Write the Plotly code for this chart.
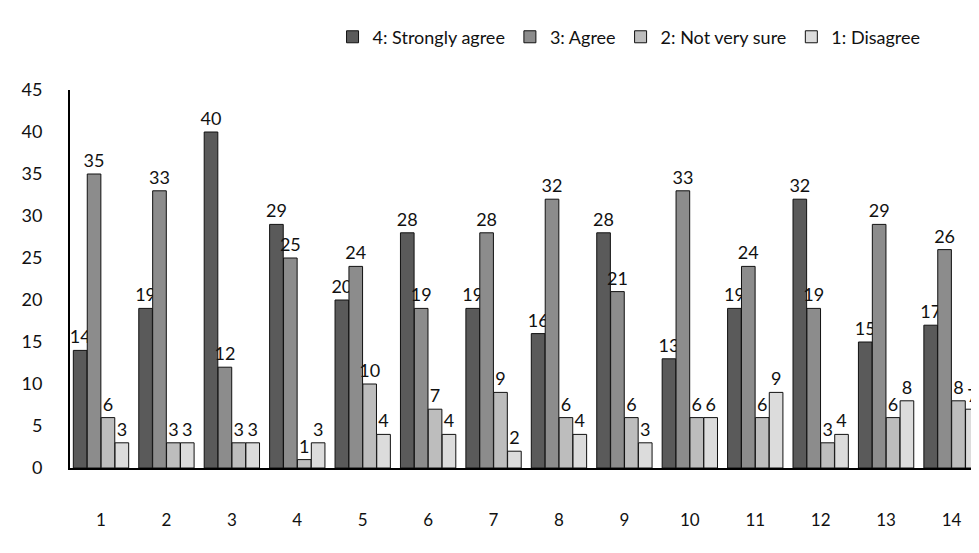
import plotly.graph_objects as go

categories = list(range(1, 15))
series_names = ["4: Strongly agree", "3: Agree", "2: Not very sure", "1: Disagree"]
strongly_agree = [14, 19, 40, 29, 20, 28, 19, 16, 28, 13, 19, 32, 15, 17]
agree = [35, 33, 12, 25, 24, 19, 28, 32, 21, 33, 24, 19, 29, 26]
not_sure = [6, 3, 3, 1, 10, 7, 9, 6, 6, 6, 6, 3, 6, 8]
disagree = [3, 3, 3, 3, 4, 4, 2, 4, 3, 6, 9, 4, 8, 7]
y_ticks = [0, 5, 10, 15, 20, 25, 30, 35, 40, 45]

colors = ["#5a5a5a", "#8c8c8c", "#bdbdbd", "#dcdcdc"]
values = [strongly_agree, agree, not_sure, disagree]

FONT = "Lato"

fig = go.Figure()
for name, vals, col in zip(series_names, values, colors):
    fig.add_trace(go.Bar(
        x=categories, y=vals, name=name,
        marker=dict(color=col, line=dict(color="#111111", width=1)),
        text=vals, textposition="outside", cliponaxis=False, constraintext="none",
        textfont=dict(size=18, color="#111111", family=FONT),
    ))

fig.update_layout(
    width=971, height=545,
    paper_bgcolor="white", plot_bgcolor="white",
    margin=dict(l=62, r=0, t=82, b=85),
    barmode="group", bargap=0.15, bargroupgap=0.02,
    font=dict(family=FONT, size=17, color="#111111"),
    legend=dict(orientation="h", x=0.615, xanchor="center", y=1.14, yanchor="middle",
                font=dict(size=18), itemwidth=30, traceorder="normal"),
)
fig.update_xaxes(
    range=[0.526, 14.42], tickvals=categories, ticktext=[str(c) for c in categories],
    showline=True, linecolor="#000000", linewidth=2, showgrid=False, zeroline=False,
    ticks="", ticklabelstandoff=36, tickfont=dict(size=17),
)
fig.update_yaxes(
    range=[0, 45], tickvals=y_ticks, showline=True, linecolor="#000000", linewidth=2,
    showgrid=False, zeroline=False, ticks="", ticklabelstandoff=22, tickfont=dict(size=18),
)

fig.write_html("out.html")
